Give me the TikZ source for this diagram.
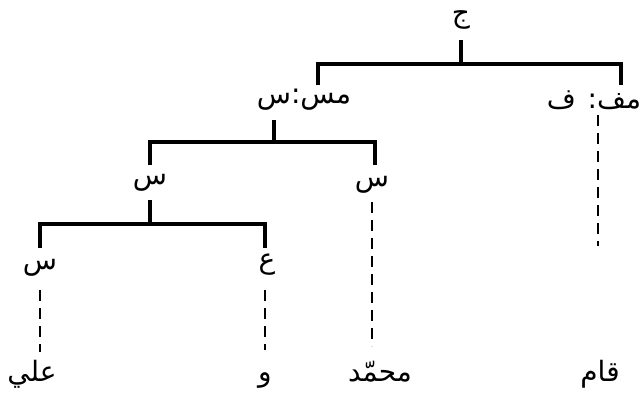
\documentclass[tikz,border=0pt]{standalone}
\usepackage{fontspec}
\newfontfamily\arabicfont[Script=Arabic]{DejaVu Sans}
\TeXXeTstate=1
\begin{document}
\begin{tikzpicture}[x=0.75pt,y=-0.75pt,
  lab/.style={inner sep=0pt,font=\arabicfont\fontsize{21}{24}\selectfont},
  br/.style={line width=2.4pt,line join=miter},
  dsh/.style={line width=2.1pt,dash pattern=on 8pt off 5.5pt}]
\useasboundingbox (0,0) rectangle (643,394);
% labels
\node[lab] (j)   at (461,20)  {\beginR ج\endR};
\node[lab] (ms)  at (304,100) {\beginR مس:س\endR};
\node[lab] (mf)  at (594,100) {\beginR مف: ف\endR};
\node[lab] (s2l) at (150,183) {\beginR س\endR};
\node[lab] (s2r) at (372,185) {\beginR س\endR};
\node[lab] (s3l) at (40,268)  {\beginR س\endR};
\node[lab] (ayn) at (267,265) {\beginR ع\endR};
\node[lab,anchor=base] (ali) at (32,381)  {\beginR علي\endR};
\node[lab,anchor=base] (waw) at (265,381) {\beginR و\endR};
\node[lab,anchor=base] (muh) at (380,381) {\beginR محمّد\endR};
\node[lab,anchor=base] (qam) at (600,381) {\beginR قام\endR};
% junction coordinates
\coordinate (p1) at (461,40);  \coordinate (m1) at (461,64);
\coordinate (a1) at (318,85);  \coordinate (b1) at (621,85);
\coordinate (p2) at (274,120); \coordinate (m2) at (274,142);
\coordinate (a2) at (150,165); \coordinate (b2) at (375,165);
\coordinate (p3) at (150,200); \coordinate (m3) at (150,224);
\coordinate (a3) at (40,248);  \coordinate (b3) at (265,248);
\coordinate (d1t) at (40,290);  \coordinate (d1b) at (40,352);
\coordinate (d2t) at (265,290); \coordinate (d2b) at (265,350);
\coordinate (d3t) at (372,202); \coordinate (d3b) at (372,346);
\coordinate (d4t) at (598,115); \coordinate (d4b) at (598,246);
% tree branches
\draw[br] (p1) -- (m1);
\draw[br] (a1) |- (m1) -| (b1);
\draw[br] (p2) -- (m2);
\draw[br] (a2) |- (m2) -| (b2);
\draw[br] (p3) -- (m3);
\draw[br] (a3) |- (m3) -| (b3);
% dashed leaves
\draw[dsh] (d1t) -- (d1b);
\draw[dsh] (d2t) -- (d2b);
\draw[dsh] (d3t) -- (d3b);
\draw[dsh] (d4t) -- (d4b);
\end{tikzpicture}
\end{document}
